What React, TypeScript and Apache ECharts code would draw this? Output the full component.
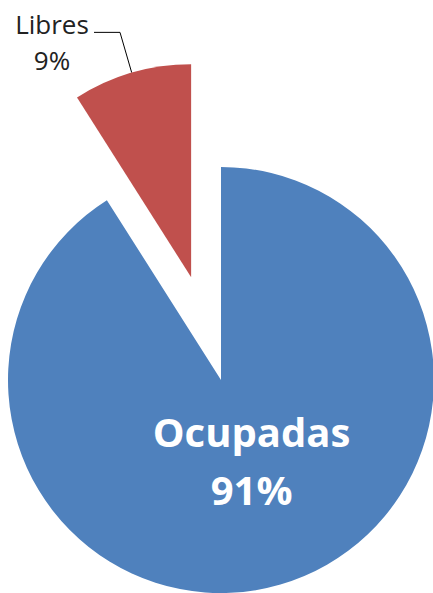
import React, { useEffect, useRef } from "react";
import * as echarts from "echarts";

const categories = ["Ocupadas", "Libres"];
const values = [91, 9];
const colors = ["#4F81BD", "#C0504D"];

export default function App() {
  const ref = useRef<HTMLDivElement>(null);
  useEffect(() => {
    if (!ref.current) return;
    const chart = echarts.init(ref.current, undefined, { renderer: "svg" });
    chart.setOption({
      animation: false,
      series: [
        {
          type: "pie",
          center: [221, 380],
          radius: 213,
          startAngle: 90,
          clockwise: true,
          selectedMode: "single",
          selectedOffset: 107,
          avoidLabelOverlap: false,
          emphasis: { disabled: true },
          itemStyle: { borderWidth: 0 },
          data: categories.map((c, i) => ({
            name: c,
            value: values[i],
            selected: i === 1,
            itemStyle: { color: colors[i] },
            label:
              i === 0
                ? {
                    show: true,
                    position: "inside",
                    formatter: "{b}\n{d}%",
                    color: "#ffffff",
                    fontFamily: "Open Sans",
                    fontWeight: "bold",
                    fontSize: 40,
                    lineHeight: 58,
                    align: "center",
                  }
                : {
                    show: true,
                    position: "outside",
                    formatter: "{b}\n{d}%",
                    color: "#222222",
                    fontFamily: "Open Sans",
                    fontSize: 26,
                    lineHeight: 36,
                  },
            labelLine:
              i === 1
                ? {
                    show: true,
                    length: 42,
                    length2: 26,
                    lineStyle: { color: "#000000", width: 1 },
                  }
                : { show: false },
          })),
          labelLayout: (params: any) => {
            if (params.dataIndex === 0) return { dy: -25 };
            return {
              align: "center",
              dx: -37,
              dy: 10,
              labelLinePoints: params.labelLinePoints,
            };
          },
        },
      ],
    });
    return () => chart.dispose();
  }, []);
  return (
    <div
      ref={ref}
      style={{ position: "absolute", left: 0, top: 0, width: 433, height: 593 }}
    />
  );
}
